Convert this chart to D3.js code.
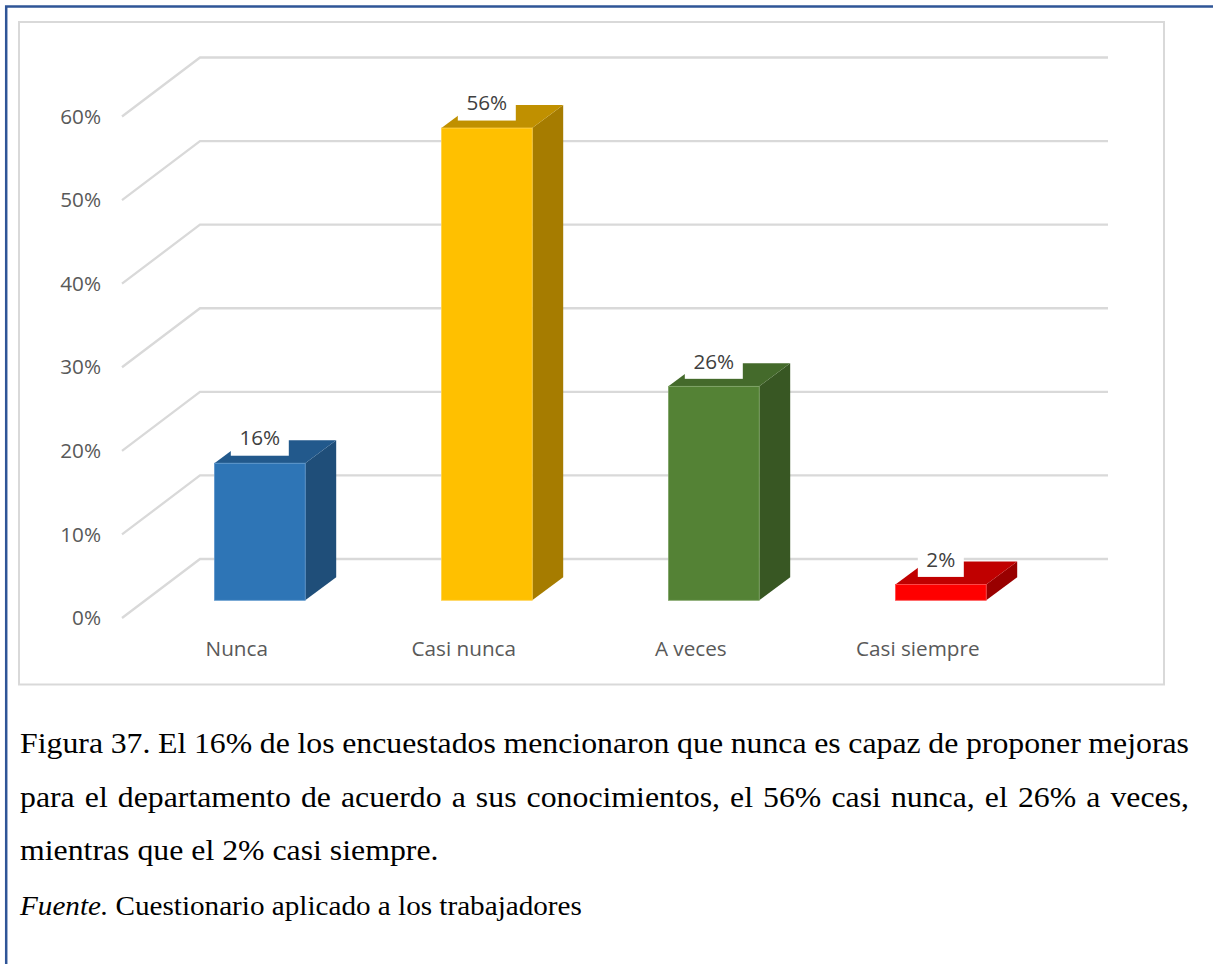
<!DOCTYPE html>
<html><head><meta charset="utf-8">
<script src="https://cdn.jsdelivr.net/npm/d3@7"></script>
<style>html,body{margin:0;padding:0;background:#fff;overflow:hidden}svg{display:block}</style>
</head><body><div id="c"></div>
<script>
const categories = ["Nunca","Casi nunca","A veces","Casi siempre"];
const values = [16.4,56.5,25.6,1.9];
const valueLabels = ["16%","56%","26%","2%"];
const ticks = [0,10,20,30,40,50,60];
const frontColors = ["#2e75b6","#ffc000","#548235","#ff0000"];
const topColors = ["#22598c","#c09000","#446a2b","#c00000"];
const sideColors = ["#1f4e79","#a67c00","#385723","#990000"];
const edgeColors = ["#5f97cc","#ffd24d","#7fa366","#ff4d4d"];
const captionLines = [
 "Figura 37. El 16% de los encuestados mencionaron que nunca es capaz de proponer mejoras",
 "para el departamento de acuerdo a sus conocimientos, el 56% casi nunca, el 26% a veces,",
 "mientras que el 2% casi siempre."
];

const W=1213,H=964;
const svg=d3.select("#c").append("svg").attr("width",W).attr("height",H);
const sans='"Open Sans",sans-serif', serif='"Liberation Serif",serif';

// page frame
svg.append("path").attr("d",`M6.2,${H} V6.5 H${W}`).attr("fill","none").attr("stroke","#2f5597").attr("stroke-width",2.5);
svg.append("rect").attr("x",19).attr("y",22).attr("width",1145).attr("height",662.5).attr("fill","#fff").attr("stroke","#d9d9d9").attr("stroke-width",2);

const y=d3.scaleLinear().domain([0,60]).range([618,116.5]);
const x=d3.scaleBand().domain(categories).range([146.3,1054.3]).paddingInner(.6).paddingOuter(.3);
const wallDx=78,wallDy=-59,wallW=908,barDy=-17.7,depthX=31,depthY=-23;

// 3D gridlines
svg.append("g").selectAll("path").data(ticks).join("path")
 .attr("d",t=>`M122,${y(t)} l${wallDx},${wallDy} h${wallW}`)
 .attr("fill","none").attr("stroke","#d9d9d9").attr("stroke-width",2.3);

// value axis labels
svg.append("g").selectAll("text").data(ticks).join("text")
 .attr("x",101).attr("y",t=>y(t)).attr("dy","0.35em").attr("text-anchor","end")
 .attr("font-family",sans).attr("font-size",20.7).attr("fill","#595959").text(t=>t+"%");

// bars
const bars=svg.append("g").selectAll("g").data(categories).join("g");
const bx=c=>x(c), bw=x.bandwidth(), base=y(0)+barDy;
const barTop=i=>y(values[i])+barDy;
bars.append("path").attr("fill",(c,i)=>sideColors[i]).attr("d",(c,i)=>`M${bx(c)+bw},${barTop(i)} l${depthX},${depthY} V${base+depthY} l${-depthX},${-depthY} Z`);
bars.append("path").attr("fill",(c,i)=>topColors[i]).attr("d",(c,i)=>`M${bx(c)},${barTop(i)} l${depthX},${depthY} h${bw} l${-depthX},${-depthY} Z`);
bars.append("rect").attr("fill",(c,i)=>frontColors[i]).attr("x",bx).attr("y",(c,i)=>barTop(i)).attr("width",bw).attr("height",(c,i)=>base-barTop(i))
 .attr("stroke",(c,i)=>edgeColors[i]).attr("stroke-width",.8);

// data labels on white boxes
const labels=svg.append("g").selectAll("g").data(categories).join("g");
const boxW=i=>valueLabels[i].length===3?58:46;
labels.append("rect").attr("fill","#fff").attr("x",(c,i)=>bx(c)+bw/2-boxW(i)/2).attr("y",(c,i)=>barTop(i)-7.5-30).attr("width",(c,i)=>boxW(i)).attr("height",30);
labels.append("text").attr("x",c=>bx(c)+bw/2).attr("y",(c,i)=>barTop(i)-25).attr("dy","0.35em").attr("text-anchor","middle")
 .attr("font-family",sans).attr("font-size",20.7).attr("fill","#404040").text((c,i)=>valueLabels[i]);

// category labels
svg.append("g").selectAll("text").data(categories).join("text")
 .attr("x",c=>bx(c)+bw/2-23).attr("y",649).attr("dy","0.35em").attr("text-anchor","middle")
 .attr("font-family",sans).attr("font-size",20.7).attr("fill","#595959").text(c=>c);

// caption: justified via word spacing, slightly widened glyphs as in the reference
const capX=20, capRight=1189, capStretch=1.06;
const cap=svg.append("g").attr("font-family",serif).attr("font-size",30).attr("fill","#000");
captionLines.forEach((l,i)=>{
  const t=cap.append("text").attr("transform",`translate(${capX},${[753,807,860][i]}) scale(${capStretch},1)`).text(l);
  if(i<2){const w=t.node().getComputedTextLength();const n=l.split(" ").length-1;
    t.style("word-spacing",(((capRight-capX)/capStretch-w)/n)+"px");}
});
const f=svg.append("text").attr("transform","translate(20,915) scale(1.08,1)").attr("font-family",serif).attr("font-size",27).attr("fill","#000");
f.append("tspan").attr("font-style","italic").text("Fuente.");
f.append("tspan").text(" Cuestionario aplicado a los trabajadores");
</script></body></html>
